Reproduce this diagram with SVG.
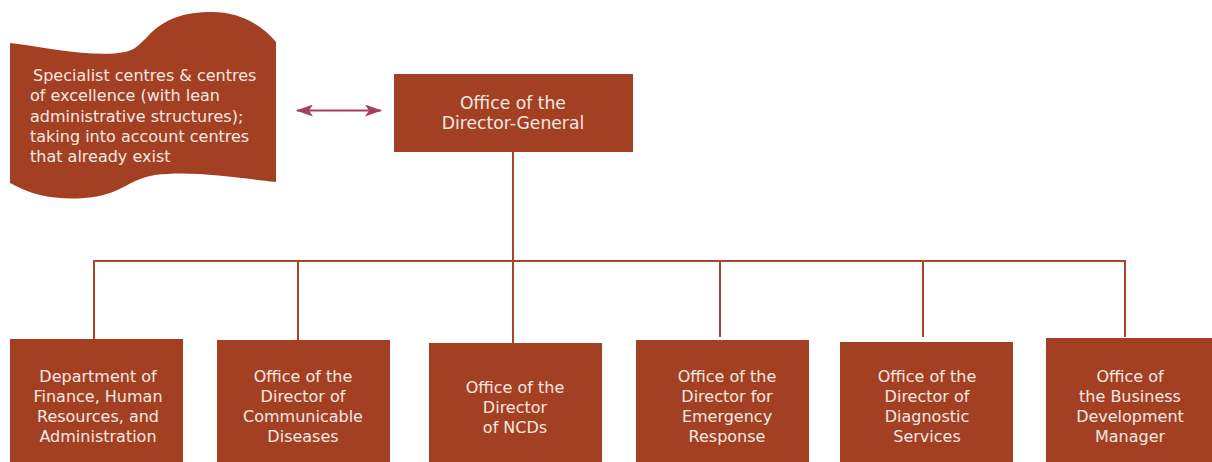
<svg xmlns="http://www.w3.org/2000/svg" width="1212" height="462" viewBox="0 0 1212 462">
  <style>
    .box { fill: #a34024; }
    .t { font-family: "DejaVu Sans", "Open Sans", sans-serif; font-size: 16px; fill: #f5e8e0; }
    .c { text-anchor: middle; }
    .ln { stroke: #a8452b; stroke-width: 2; fill: none; }
  </style>
  <defs>
    <marker id="ah" viewBox="0 0 17 12" refX="16" refY="6" markerWidth="17" markerHeight="12" orient="auto-start-reverse" markerUnits="userSpaceOnUse">
      <path d="M0,0 L17,6 L0,12 L4,6 Z" fill="#a83e68"/>
    </marker>
  </defs>
  <rect width="1212" height="462" fill="#ffffff"/>

  <g id="connectors">
    <line class="ln" x1="513" y1="152" x2="513" y2="343"/>
    <polyline class="ln" points="94,339 94,261 1125,261 1125,337"/>
    <line class="ln" x1="298" y1="261" x2="298" y2="340"/>
    <line class="ln" x1="720" y1="261" x2="720" y2="337"/>
    <line class="ln" x1="923" y1="261" x2="923" y2="337"/>
    <line x1="297" y1="110.5" x2="381" y2="110.5" stroke="#a83e68" stroke-width="2.2" marker-start="url(#ah)" marker-end="url(#ah)"/>
  </g>

  <g id="centres">
    <path class="box" d="M10,43 C50,48 95,58 125,52 C135,50 140,44 148,36 C165,18 185,12 212,12 C240,12 262,25 276,42 L276,182 C240,178 190,170 155,175 C135,178 125,188 110,193 C90,200 60,200 40,195 C28,192 18,187 10,183 Z"/>
    <text class="t" x="30" y="81"><tspan x="33">Specialist centres &amp; centres</tspan><tspan x="30" dy="20.3">of excellence (with lean</tspan><tspan x="30" dy="20.3">administrative structures);</tspan><tspan x="30" dy="20.3">taking into account centres</tspan><tspan x="30" dy="20.3">that already exist</tspan></text>
  </g>

  <g id="dg">
    <rect class="box" x="394" y="74" width="239" height="78"/>
    <text class="t c" x="513" y="109" style="font-size:17.2px"><tspan x="513">Office of the</tspan><tspan x="513" dy="20">Director-General</tspan></text>
  </g>

  <g id="finance">
    <rect class="box" x="10" y="339" width="173" height="123"/>
    <text class="t c" x="98" y="382"><tspan x="98">Department of</tspan><tspan x="98" dy="20">Finance, Human</tspan><tspan x="98" dy="20">Resources, and</tspan><tspan x="98" dy="20">Administration</tspan></text>
  </g>

  <g id="communicable">
    <rect class="box" x="217" y="340" width="173" height="122"/>
    <text class="t c" x="303" y="382"><tspan x="303">Office of the</tspan><tspan x="303" dy="20">Director of</tspan><tspan x="303" dy="20">Communicable</tspan><tspan x="303" dy="20">Diseases</tspan></text>
  </g>

  <g id="ncds">
    <rect class="box" x="429" y="343" width="173" height="119"/>
    <text class="t c" x="515" y="393"><tspan x="515">Office of the</tspan><tspan x="515" dy="20">Director</tspan><tspan x="515" dy="20">of NCDs</tspan></text>
  </g>

  <g id="emergency">
    <rect class="box" x="636" y="340" width="173" height="122"/>
    <text class="t c" x="727" y="382"><tspan x="727">Office of the</tspan><tspan x="727" dy="20">Director for</tspan><tspan x="727" dy="20">Emergency</tspan><tspan x="727" dy="20">Response</tspan></text>
  </g>

  <g id="diagnostic">
    <rect class="box" x="840" y="342" width="173" height="120"/>
    <text class="t c" x="927" y="382"><tspan x="927">Office of the</tspan><tspan x="927" dy="20">Director of</tspan><tspan x="927" dy="20">Diagnostic</tspan><tspan x="927" dy="20">Services</tspan></text>
  </g>

  <g id="business">
    <rect class="box" x="1046" y="338" width="166" height="124"/>
    <text class="t c" x="1130" y="382"><tspan x="1130">Office of</tspan><tspan x="1130" dy="20">the Business</tspan><tspan x="1130" dy="20">Development</tspan><tspan x="1130" dy="20">Manager</tspan></text>
  </g>
</svg>
